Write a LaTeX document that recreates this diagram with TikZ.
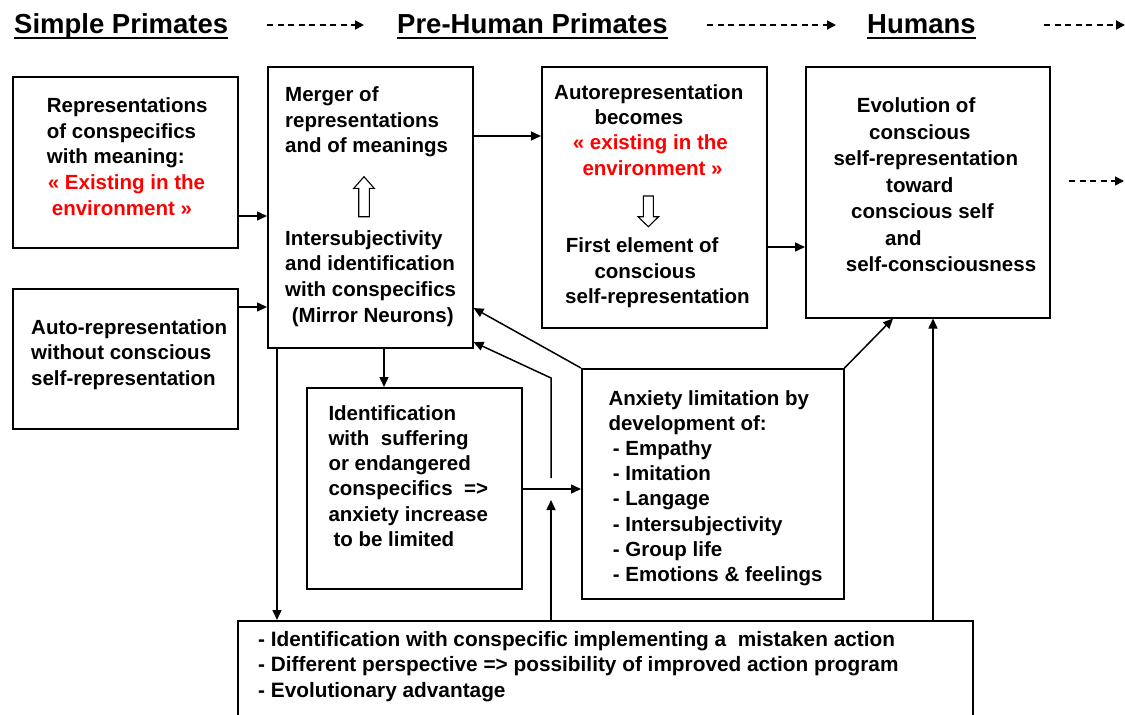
\documentclass[tikz,border=0pt]{standalone}
\usepackage{fontspec}
\setmainfont{Liberation Sans}
\usetikzlibrary{arrows.meta}
\definecolor{redtxt}{RGB}{255,0,0}
\newcommand{\blk}[2]{\vtop{\baselineskip=#1pt\lineskiplimit=-100pt\lineskip=0pt #2}}
\newcommand{\LL}[2]{\hbox{\kern#1pt #2}}
\tikzset{
  box/.style={draw, line width=1.5pt, rectangle, inner sep=0pt, anchor=north west},
  txt/.style={anchor=base west, inner sep=0pt, font=\fontsize{20.5}{25.6}\selectfont\bfseries},
  head/.style={anchor=base west, inner sep=0pt, font=\fontsize{27.5}{30}\selectfont\bfseries},
  arr/.style={line width=1.5pt, -{Triangle[length=10pt,width=9pt]}},
  darr/.style={line width=1.8pt, dash pattern=on 6pt off 4.5pt, -{Triangle[length=9pt,width=9pt]}},
  hollow/.style={draw, line width=1.1pt, fill=white},
  uline/.style={line width=2pt}
}
\begin{document}
\begin{tikzpicture}[x=1pt,y=-1pt]
\useasboundingbox (0,0) rectangle (1125,715);
% header
\node[head] (h1) at (14,33) {Simple Primates};
\node[head] (h2) at (397,33) {Pre-Human Primates};
\node[head] (h3) at (867,33) {Humans};
\draw[uline] ([yshift=-5pt]h1.base west) -- ([yshift=-5pt]h1.base east);
\draw[uline] ([yshift=-5pt]h2.base west) -- ([yshift=-5pt]h2.base east);
\draw[uline] ([yshift=-5pt]h3.base west) -- ([yshift=-5pt]h3.base east);
\coordinate (d1a) at (267,25); \coordinate (d1b) at (364,25);
\coordinate (d2a) at (707,25); \coordinate (d2b) at (836,25);
\coordinate (d3a) at (1044,25); \coordinate (d3b) at (1125,25);
\draw[darr] (d1a) -- (d1b);
\draw[darr] (d2a) -- (d2b);
\draw[darr] (d3a) -- (d3b);
% boxes
\node[box, minimum width=225pt, minimum height=171pt] (A) at (12,76) {};
\node[box, minimum width=225pt, minimum height=140pt] (B) at (12,288) {};
\node[box, minimum width=205pt, minimum height=281pt] (C) at (267,66) {};
\node[box, minimum width=225pt, minimum height=261pt] (D) at (541,66) {};
\node[box, minimum width=244pt, minimum height=251pt] (E) at (805,66) {};
\node[box, minimum width=215pt, minimum height=201pt] (F) at (306,387) {};
\node[box, minimum width=262pt, minimum height=230pt] (G) at (581,368) {};
\node[box, minimum width=735pt, minimum height=115pt] (H) at (237,620) {};
% texts
\node[txt] (tA) at (46.7,112.7) {\blk{25.6}{\LL{0}{Representations}\LL{0}{of conspecifics}\LL{0}{with meaning:}\LL{1}{\color{redtxt}« Existing in the}\LL{5}{\color{redtxt}environment »}}};
\node[txt] (tB) at (31,334) {\blk{25.6}{\LL{0}{Auto-representation}\LL{0}{without conscious}\LL{0}{self-representation}}};
\node[txt] (tC1) at (285,101.7) {\blk{25.6}{\LL{0}{Merger of}\LL{0}{representations}\LL{0}{and of meanings}}};
\node[txt] (tC2) at (285,245) {\blk{25.7}{\LL{0}{Intersubjectivity}\LL{0}{and identification}\LL{0}{with conspecifics}\LL{6.7}{(Mirror Neurons)}}};
\node[txt] (tD1) at (554,99) {\blk{25.4}{\LL{0}{Autorepresentation}\LL{40.3}{becomes}\LL{18.7}{\color{redtxt}« existing in the}\LL{28.3}{\color{redtxt}environment »}}};
\node[txt] (tD2) at (565,252.7) {\blk{25.6}{\LL{0.7}{First element of}\LL{29.3}{conscious}\LL{0}{self-representation}}};
\node[txt] (tE) at (833.3,112.7) {\blk{26.5}{\LL{23.4}{Evolution of}\LL{35.7}{conscious}\LL{0}{self-representation}\LL{52.7}{toward}\LL{17.7}{conscious self}\LL{51.7}{and}\LL{12.4}{self-consciousness}}};
\node[txt] (tF) at (328.3,420) {\blk{25.3}{\LL{0}{Identification}\LL{0}{with\ \ suffering}\LL{0}{or endangered}\LL{0}{conspecifics\ \ =>}\LL{0}{anxiety increase}\LL{5}{to be limited}}};
\node[txt] (tG) at (608.3,405) {\blk{25.2}{\LL{0}{Anxiety limitation by}\LL{0}{development of:}\LL{4.4}{- Empathy}\LL{4.4}{- Imitation}\LL{4.4}{- Langage}\LL{4.4}{- Intersubjectivity}\LL{4.4}{- Group life}\LL{4.4}{- Emotions \& feelings}}};
\node[txt, font=\fontsize{20.8}{25.6}\selectfont\bfseries] (tH) at (258,646) {\blk{25.5}{\LL{0}{- Identification with conspecific implementing a\ \ mistaken action}\LL{0}{- Different perspective => possibility of improved action program}\LL{0}{- Evolutionary advantage}}};
% hollow arrows
\draw[hollow] (358.7,216.7) -- (358.7,188.4) -- (353.7,188.4) -- (364,176.7) -- (374.3,188.4) -- (369.3,188.4) -- (369.3,216.7) -- cycle;
\draw[hollow] (643.3,196) -- (643.3,216.7) -- (638,216.7) -- (648.3,226.7) -- (658.6,216.7) -- (653.3,216.7) -- (653.3,196) -- cycle;
% helper coordinates
\coordinate (yAC) at (0,216); \coordinate (yBC) at (0,307);
\coordinate (yCD) at (0,136); \coordinate (yDE) at (0,247);
\coordinate (yFG) at (0,489); \coordinate (yGC1) at (0,308); \coordinate (yGC2) at (0,342);
\coordinate (xCF) at (384,0); \coordinate (xCH) at (277,0);
\coordinate (xHG) at (551,0); \coordinate (xHE) at (933,0); \coordinate (xGE) at (893,0);
\coordinate (bend) at (551,378); \coordinate (free) at (551,478);
\coordinate (tipHG) at (551,500);
\coordinate (r0) at (1069,181); \coordinate (r1) at (1124,181);
% connectors
\draw[arr] (A.east |- yAC) -- (C.west |- yAC);
\draw[arr] (B.east |- yBC) -- (C.west |- yBC);
\draw[arr] (C.east |- yCD) -- (D.west |- yCD);
\draw[arr] (D.east |- yDE) -- (E.west |- yDE);
\draw[arr] (C.south -| xCF) -- (F.north -| xCF);
\draw[arr] (C.south -| xCH) -- (H.north -| xCH);
\draw[arr] (F.east |- yFG) -- (G.west |- yFG);
\draw[arr] (G.north west) -- (C.east |- yGC1);
\draw[arr] (free) -- (bend) -- (C.east |- yGC2);
\draw[arr] (H.north -| xHG) -- (tipHG);
\draw[arr] (G.north east) -- (E.south -| xGE);
\draw[arr] (H.north -| xHE) -- (E.south -| xHE);
\draw[darr, line width=1.5pt] (r0) -- (r1);
\end{tikzpicture}
\end{document}
